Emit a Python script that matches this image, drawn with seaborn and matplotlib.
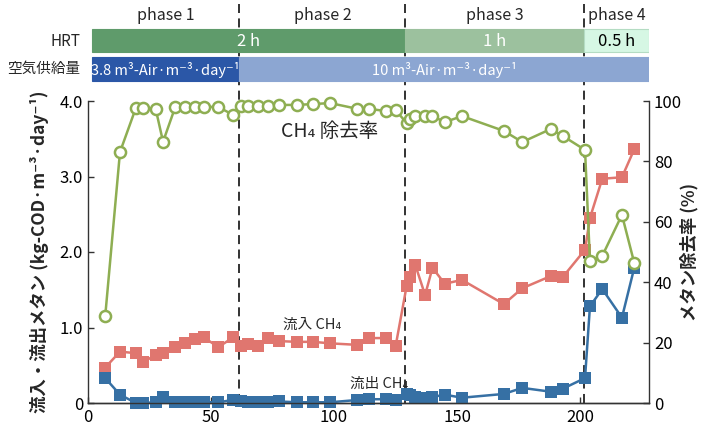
import matplotlib
matplotlib.use("Agg")
import matplotlib.pyplot as plt
import seaborn as sns
import pandas as pd

# ---------------- data ----------------
days = [7, 13, 19.5, 22.5, 27.5, 30.5, 35.5, 39.5, 43.5, 47, 53, 59, 62,
        65, 69, 73, 77.5, 85, 91.5, 98.5, 109.5, 114, 121, 125,
        129.5, 131, 133, 137, 140, 145, 152, 169, 176.5, 188, 193, 202,
        204, 209, 217, 222]
removal = [28.8, 83.1, 97.8, 97.8, 97.4, 86.5, 98.1, 98.1, 98.1, 98.1, 98.0, 95.4, 98.3,
           98.3, 98.3, 98.3, 98.7, 98.7, 99.0, 99.3, 97.4, 97.4, 96.7, 97.0,
           92.7, 94.0, 95.0, 95.0, 95.0, 93.0, 95.0, 90.1, 86.4, 90.7, 88.4, 83.8,
           47.0, 48.7, 62.3, 46.4]
inflow = [0.47, 0.68, 0.66, 0.54, 0.64, 0.66, 0.74, 0.79, 0.85, 0.87, 0.74, 0.87, 0.75,
          0.78, 0.75, 0.86, 0.82, 0.81, 0.81, 0.79, 0.77, 0.86, 0.86, 0.75,
          1.55, 1.67, 1.83, 1.43, 1.79, 1.58, 1.63, 1.31, 1.52, 1.68, 1.67, 2.03,
          2.45, 2.97, 2.99, 3.36]
outflow = [0.33, 0.11, 0.00, 0.00, 0.01, 0.08, 0.01, 0.01, 0.01, 0.01, 0.01, 0.04, 0.02,
           0.01, 0.01, 0.01, 0.02, 0.01, 0.01, 0.01, 0.04, 0.05, 0.05, 0.04,
           0.12, 0.11, 0.08, 0.07, 0.08, 0.11, 0.07, 0.12, 0.20, 0.15, 0.19, 0.33,
           1.28, 1.51, 1.13, 1.79]

phase_bounds = [61.5, 129, 201.5]
phase_labels = ["phase 1", "phase 2", "phase 3", "phase 4"]
phase_spans = [(1.5, 61.5), (61.5, 129), (129, 201.5), (201.5, 228)]
hrt_labels = ["2 h", "1 h", "0.5 h"]
hrt_spans = [(1.5, 129), (129, 201.5), (201.5, 228)]
air_labels = ["3.8 m³-Air·m⁻³·day⁻¹", "10 m³-Air·m⁻³·day⁻¹"]
air_spans = [(1.5, 61.5), (61.5, 228)]

df = pd.DataFrame({"day": days, "removal": removal, "inflow": inflow, "outflow": outflow})

# ---------------- style ----------------
sns.set_theme(style="ticks")
FAM = ["Noto Sans CJK JP", "DejaVu Sans"]
plt.rcParams["font.family"] = FAM

RED = "#e0766f"
BLUE = "#3670a4"
GREEN = "#8eae52"
HRT_COLS = ["#5f9b6b", "#9cc19e", "#d6f7e4"]
AIR_COLS = ["#2b57a7", "#8ca6d2"]

W, H = 701, 432
fig = plt.figure(figsize=(W / 100, H / 100), dpi=100)

L, R, T, B = 88, 649, 101, 403
ax = fig.add_axes([L / W, 1 - B / H, (R - L) / W, (B - T) / H])
ax2 = ax.twinx()

XMIN, XMAX = 0, 228
ax.set_xlim(XMIN, XMAX)
ax.set_ylim(0, 4)
ax2.set_ylim(0, 100)

# dashed phase lines (extend up through the header)
for xb in phase_bounds:
    ax.axvline(xb, ymin=0, ymax=(B - 4) / (B - T), color="#222222", lw=1.3,
               ls=(0, (5, 3)), clip_on=False, zorder=1)

sns.lineplot(data=df, x="day", y="inflow", ax=ax, color=RED, marker="s",
             markersize=8.5, markeredgewidth=0, linewidth=1.8, zorder=3)
sns.lineplot(data=df, x="day", y="outflow", ax=ax, color=BLUE, marker="s",
             markersize=8.5, markeredgewidth=0, linewidth=1.8, zorder=3)
sns.lineplot(data=df, x="day", y="removal", ax=ax2, color=GREEN, marker="o",
             markersize=8, markerfacecolor="white", markeredgecolor=GREEN,
             markeredgewidth=1.8, linewidth=1.8, zorder=3)
for a in (ax, ax2):
    for ln in a.lines:
        ln.set_clip_on(False)

# axes styling
for a in (ax, ax2):
    a.spines["top"].set_visible(False)
    for s in ("left", "right", "bottom"):
        a.spines[s].set_color("#333333")
        a.spines[s].set_linewidth(1.0)
    a.tick_params(direction="in", length=4, width=1, colors="#333333",
                  labelsize=12, labelcolor="black")
ax.spines["right"].set_visible(False)
ax2.spines["left"].set_visible(False)

ax.set_xticks([0, 50, 100, 150, 200])
ax.set_yticks([0, 1, 2, 3, 4])
ax.set_yticklabels(["0", "1.0", "2.0", "3.0", "4.0"])
ax2.set_yticks([0, 20, 40, 60, 80, 100])
ax.set_xlabel("")
ax.set_ylabel("流入・流出メタン (kg-COD·m⁻³·day⁻¹)", fontsize=12.5, fontweight="bold")
ax.yaxis.set_label_coords(-0.07, 0.5)
ax2.set_ylabel("メタン除去率 (%)", fontsize=12.5, rotation=90, fontweight="bold")
ax2.yaxis.set_label_coords(1.056, 0.5)
ax.tick_params(axis="x", pad=4)

# annotations
ax.text(98.4, 3.6, "CH₄ 除去率", fontsize=14, ha="center", va="center", family=FAM)
ax.text(91, 1.03, "流入 CH₄", fontsize=10.5, ha="center", va="center", family=FAM)
ax.text(118.5, 0.26, "流出 CH₄", fontsize=10.5, ha="center", va="center", family=FAM)

# ---------------- header ----------------
top = fig.add_axes([L / W, 1 - 90 / H, (R - L) / W, 90 / H])
top.set_xlim(XMIN, XMAX)
top.set_ylim(90, 0)
top.axis("off")
top.patch.set_alpha(0)

for (x0, x1), lab, col in zip(hrt_spans, hrt_labels, HRT_COLS):
    edge = "#b4dcc3" if col == HRT_COLS[2] else col
    top.barh(40.5, x1 - x0, left=x0, height=23, color=col, edgecolor=edge, lw=0.8)
    top.text((x0 + x1) / 2, 41, lab, ha="center", va="center", fontsize=12,
             color="black" if col == HRT_COLS[2] else "white")
for (x0, x1), lab, col in zip(air_spans, air_labels, AIR_COLS):
    top.barh(69, x1 - x0, left=x0, height=24, color=col, edgecolor=col, lw=0.8)
    top.text((x0 + x1) / 2, 69.5, lab, ha="center", va="center", fontsize=10.5,
             color="white")
for (x0, x1), lab in zip(phase_spans, phase_labels):
    top.text((x0 + x1) / 2, 15, lab, ha="center", va="center", fontsize=11.5)
top.text(-3.2, 41, "HRT", ha="right", va="center", fontsize=11, clip_on=False)
top.text(-3.2, 69, "空気供給量", ha="right", va="center", fontsize=10.5, clip_on=False)

fig.savefig("out.png", dpi=100)
